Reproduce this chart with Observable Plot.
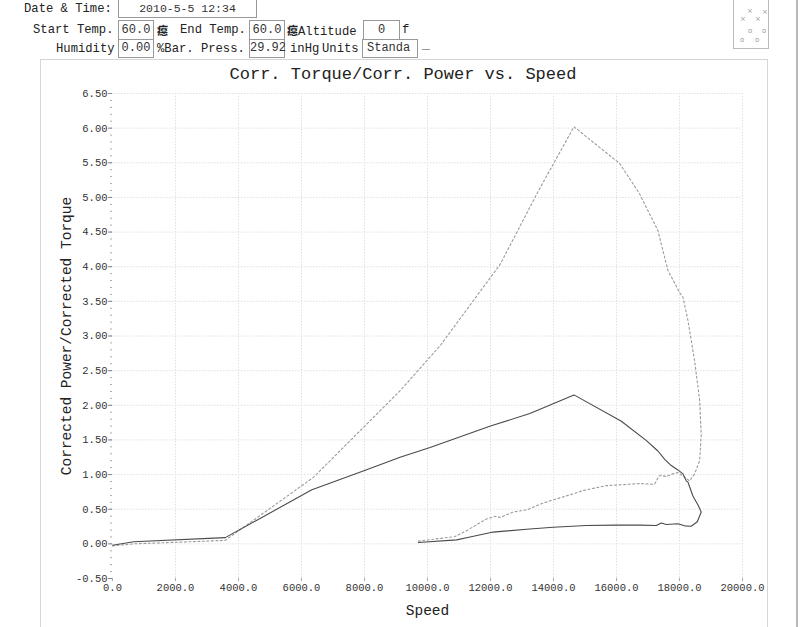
<!DOCTYPE html>
<html><head><meta charset="utf-8">
<script src="https://cdn.jsdelivr.net/npm/d3@7"></script>
<script src="https://cdn.jsdelivr.net/npm/@observablehq/plot@0.6"></script>
<style>
body{margin:0;background:#fff;width:800px;height:627px;position:relative;overflow:hidden;font-family:"Liberation Mono",monospace;color:#222}
.lbl{position:absolute;font-size:12.2px;white-space:pre;line-height:18px;height:18px}
.cjk{font-family:"Noto Sans CJK SC",sans-serif;font-size:11px;font-weight:bold}
.box{position:absolute;border:1px solid #999;font-family:"Liberation Mono",monospace;font-size:12px;line-height:17px;text-align:center;box-sizing:border-box;color:#333;white-space:pre}
#frame{position:absolute;left:40px;top:59px;width:726px;height:600px;border:1px solid #d6d6d6;border-bottom:none}
#edge{position:absolute;left:796px;top:0;width:2px;height:627px;background:#b8b8b8}
#title{position:absolute;left:0;width:806px;top:65px;text-align:center;font-size:17px;line-height:20px;color:#222}
#chart{position:absolute;left:40px;top:60px}
#chart svg{overflow:visible}
#chart g[aria-label="y-axis label"] text,#chart g[aria-label="x-axis label"] text{font-size:14.5px;fill:#222}
#icon{position:absolute;left:733px;top:-1px;width:34px;height:48px;border:1px solid #bbb;font-family:"DejaVu Sans",sans-serif;font-size:7px;color:#999}
#icon span{position:absolute}
</style></head>
<body>
<div id="edge"></div>
<div id="frame"></div>
<div class="lbl" style="left:24px;top:0px">Date &amp; Time:</div>
<div class="box" style="left:118px;top:-1px;width:139px;height:19px;font-size:11.5px">2010-5-5 12:34</div>
<div class="lbl" style="left:33px;top:21px">Start Temp.</div>
<div class="box" style="left:118px;top:20px;width:36px;height:20px;line-height:18px">60.0</div>
<div class="lbl cjk" style="left:157px;top:21px">癋</div>
<div class="lbl" style="left:180px;top:21px">End Temp.</div>
<div class="box" style="left:249px;top:20px;width:36px;height:20px;line-height:18px">60.0</div>
<div class="lbl" style="left:287px;top:21px"><span class="cjk">癋</span>Altitude</div>
<div class="box" style="left:363px;top:20px;width:37px;height:20px;line-height:18px">0</div>
<div class="lbl" style="left:402px;top:21px">f</div>
<div class="lbl" style="left:56px;top:40px">Humidity</div>
<div class="box" style="left:118px;top:39px;width:36px;height:19px">0.00</div>
<div class="lbl" style="left:157px;top:40px">%Bar. Press.</div>
<div class="box" style="left:249px;top:39px;width:36px;height:19px">29.92</div>
<div class="lbl" style="left:290px;top:40px">inHg</div>
<div class="lbl" style="left:322px;top:40px">Units</div>
<div class="box" style="left:362px;top:39px;width:56px;height:19px;text-align:left;padding-left:4px">Standa</div>
<div style="position:absolute;left:422px;top:49px;width:8px;height:1px;background:#999"></div>
<div id="icon">
<span style="left:13px;top:7px">×</span><span style="left:28px;top:8px">×</span>
<span style="left:6px;top:15px">×</span><span style="left:21px;top:15px">×</span>
<span style="left:14px;top:27px">o</span><span style="left:28px;top:27px">o</span>
<span style="left:6px;top:36px">o</span><span style="left:21px;top:36px">o</span>
</div>
<div id="title">Corr. Torque/Corr. Power vs. Speed</div>
<div id="chart"></div>
<script>
// Corrected torque (solid line)
const torqueSpeed = [0, 675, 3580, 6330, 7960, 9130, 10080, 12000, 13250, 14650, 16155, 16950, 17315, 17530, 17740, 17900, 18000, 18110, 18215, 18270, 18425, 18600, 18690, 18565, 18370, 18160, 17950, 17580, 17420, 17265, 16735, 15995, 15045, 13990, 13140, 12085, 11350, 10925, 9710];
const torqueValue = [-0.02, 0.03, 0.09, 0.78, 1.05, 1.25, 1.39, 1.70, 1.88, 2.15, 1.77, 1.49, 1.34, 1.22, 1.13, 1.08, 1.05, 1.01, 0.91, 0.89, 0.69, 0.55, 0.46, 0.32, 0.255, 0.26, 0.29, 0.28, 0.30, 0.265, 0.27, 0.27, 0.265, 0.24, 0.21, 0.17, 0.10, 0.058, 0.02];
// Corrected power (dotted line)
const powerSpeed = [0, 675, 3580, 6380, 7965, 9130, 10400, 12300, 13565, 14650, 16100, 16735, 17315, 17630, 18000, 18110, 18270, 18480, 18640, 18690, 18640, 18480, 18320, 18160, 17950, 17790, 17580, 17420, 17350, 17210, 16735, 15680, 14940, 14620, 13880, 13565, 13145, 12720, 12300, 12195, 11875, 11240, 10870, 9710];
const powerValue = [-0.03, 0.00, 0.05, 0.96, 1.68, 2.21, 2.86, 4.03, 5.13, 6.02, 5.49, 5.05, 4.52, 3.95, 3.63, 3.56, 3.22, 2.64, 2.07, 1.58, 1.20, 1.01, 0.91, 0.96, 1.03, 1.01, 0.97, 0.99, 0.98, 0.86, 0.87, 0.84, 0.77, 0.72, 0.62, 0.57, 0.49, 0.46, 0.38, 0.40, 0.36, 0.19, 0.105, 0.04];
// Axis ticks
const speedTicks = [0, 2000, 4000, 6000, 8000, 10000, 12000, 14000, 16000, 18000, 20000];
const valueTicks = [-0.5, 0, 0.5, 1, 1.5, 2, 2.5, 3, 3.5, 4, 4.5, 5, 5.5, 6, 6.5];
const valueMinorTicks = d3.range(-5, 66).map(i => i / 10);

const torque = torqueSpeed.map((s, i) => ({speed: s, value: torqueValue[i]}));
const power = powerSpeed.map((s, i) => ({speed: s, value: powerValue[i]}));

const chart = Plot.plot({
  width: 727,
  height: 567,
  marginLeft: 72,
  marginRight: 25,
  marginTop: 33,
  marginBottom: 49,
  style: {fontFamily: "Liberation Mono, monospace", fontSize: "10.5px", color: "#333", background: "transparent"},
  x: {domain: [0, 20000]},
  y: {domain: [-0.5, 6.5]},
  marks: [
    Plot.gridY(valueTicks.slice(1), {stroke: "#e0e0e0", strokeOpacity: 1, strokeDasharray: "1.5,1.5"}),
    Plot.gridX(speedTicks.slice(1), {stroke: "#e0e0e0", strokeOpacity: 1, strokeDasharray: "1.5,1.5"}),
    Plot.axisY(valueMinorTicks, {tickSize: 2, tickFormat: () => "", stroke: "#aaa", label: null}),
    Plot.axisY(valueTicks, {tickSize: 4, tickPadding: 1, stroke: "#888", tickFormat: d => d.toFixed(2),
      label: "Corrected Power/Corrected Torque", labelAnchor: "center", labelOffset: 52, labelArrow: false}),
    Plot.axisX(speedTicks, {tickSize: 3, tickPadding: 2, stroke: "#aaa", tickFormat: d => d.toFixed(1),
      label: "Speed", labelAnchor: "center", labelOffset: 36, labelArrow: false}),
    Plot.line(power, {x: "speed", y: "value", stroke: "#9a9a9a", strokeWidth: 1.1, strokeDasharray: "2,2.5"}),
    Plot.line(torque, {x: "speed", y: "value", stroke: "#4a4a4a", strokeWidth: 1.1})
  ]
});
document.getElementById("chart").append(chart);
</script>
</body></html>
